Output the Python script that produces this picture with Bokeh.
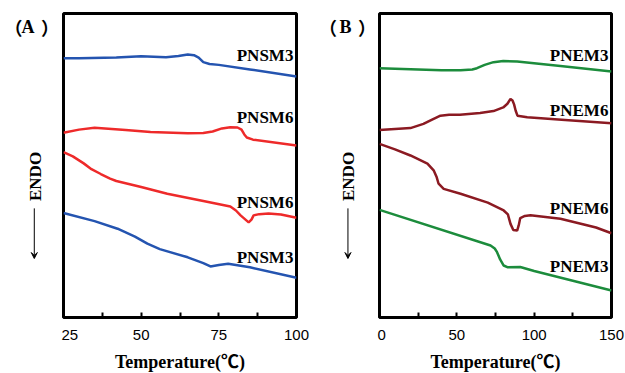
import math
from bokeh.plotting import figure
from bokeh.layouts import row
from bokeh.models import Range1d, FixedTicker, Label, Arrow, VeeHead
from bokeh.embed import file_html
from bokeh.resources import INLINE

# ---------------- Panel A data (Temperature °C, heat flow a.u.) ----------------
a_sm3_top_t = [25, 30, 42, 50, 58, 62, 65, 67, 68.5, 70, 72, 75, 85, 100]
a_sm3_top_y = [85.3, 85.3, 85.5, 85.9, 85.6, 86.0, 86.5, 86.3, 85.5, 84.0, 83.4, 83.1, 81.6, 79.3]

a_sm6_top_t = [25, 30, 35, 45, 53, 65, 70, 73, 76, 78.7, 81, 82.3, 83.2, 84, 86, 100]
a_sm6_top_y = [60.8, 61.8, 62.4, 61.7, 61.0, 60.6, 60.7, 61.2, 62.2, 62.6, 62.5, 61.8, 60.2, 59.2, 58.5, 56.6]

a_sm6_bot_t = [25, 28, 31.5, 34, 37, 40, 42, 50, 58.4, 70, 78.7, 80.5, 82, 84.6, 85.5, 86.2, 88, 91, 95, 100]
a_sm6_bot_y = [54.4, 53.0, 50.7, 48.8, 47.2, 45.7, 44.9, 42.9, 40.7, 38.3, 36.5, 35.2, 33.6, 31.3, 32.2, 33.6, 34.0, 34.2, 33.9, 32.8]

a_sm3_bot_t = [25, 35, 42.4, 48, 52, 56, 65, 70, 72.3, 75, 78, 85, 100]
a_sm3_bot_y = [34.4, 31.7, 29.2, 26.6, 24.3, 22.5, 19.8, 17.9, 16.8, 17.3, 17.7, 16.5, 13.1]

a_labels = ["PNSM3", "PNSM6", "PNSM6", "PNSM3"]
a_label_y = [86.2, 65.8, 37.9, 19.8]

# ---------------- Panel B data ----------------
b_em3_top_t = [0, 20, 40, 52.4, 60, 63, 68, 73.7, 80, 89, 117, 150]
b_em3_top_y = [82.0, 81.7, 81.3, 81.3, 81.6, 82.0, 83.1, 84.0, 84.4, 84.2, 82.7, 80.9]

b_em6_top_t = [0, 20, 28.4, 34, 39.4, 45, 52, 65, 73.7, 80, 82.7, 84.7, 86, 87, 88, 89.2, 95.5, 120, 150]
b_em6_top_y = [61.7, 62.3, 63.7, 65.1, 66.4, 66.7, 66.7, 67.3, 67.9, 69.1, 70.3, 71.9, 71.4, 70.1, 68.1, 66.4, 65.9, 65.0, 63.9]

b_em6_bot_t = [0, 10, 20, 31, 35, 37, 38.2, 41.5, 52.4, 70, 80.3, 83, 84.7, 86.5, 89, 90, 91, 94, 97.6, 117, 140, 150]
b_em6_bot_y = [57.1, 55.3, 53.3, 50.6, 48.4, 46.1, 44.0, 42.3, 40.7, 37.8, 35.2, 33.9, 30.8, 28.8, 28.6, 30.3, 32.7, 33.4, 33.6, 32.5, 29.6, 27.7]

b_em3_bot_t = [0, 71.8, 74.5, 76, 78, 80.3, 83, 91, 100, 150]
b_em3_bot_y = [35.4, 23.7, 22.7, 21.5, 19.1, 17.1, 16.5, 16.6, 15.3, 8.9]

b_labels = ["PNEM3", "PNEM6", "PNEM6", "PNEM3"]
b_label_y = [86.2, 68.1, 35.9, 16.8]

a_ticks = [25, 50, 75, 100]
a_minor = [37.5, 62.5, 87.5]
b_ticks = [0, 50, 100, 150]
b_minor = [25, 75, 125]

BLUE = "#2454B0"
RED = "#EE2A2A"
DRED = "#8B1A22"
GREEN = "#1C8C3C"

SERIF = "Liberation Serif, Noto Sans CJK SC"
CJK = "Noto Sans CJK SC"


def make_strip(fw, xr, endo_x, arrow_x, letter, px):
    s = figure(frame_width=fw, frame_height=304, output_backend="svg",
               toolbar_location=None,
               x_range=Range1d(*xr), y_range=Range1d(0, 100),
               x_axis_type=None, y_axis_type=None,
               min_border_left=0, min_border_right=0,
               min_border_top=13, min_border_bottom=56)
    s.grid.visible = False
    s.outline_line_color = None
    s.background_fill_color = "white"
    s.border_fill_color = "white"
    s.add_layout(Label(x=endo_x, y=46.4, text="ENDO", angle=math.pi / 2,
                       text_align="center", text_baseline="middle",
                       text_font=SERIF, text_font_style="bold",
                       text_font_size="17px", text_color="black"))
    s.add_layout(Arrow(x_start=arrow_x, y_start=35.9, x_end=arrow_x, y_end=19.4,
                       line_color="black", line_width=1,
                       end=VeeHead(size=6, fill_color="black", line_color="black")))
    for txt, xx, fnt in zip(["（", letter, "）"], px, [CJK, SERIF, CJK]):
        s.add_layout(Label(x=xx, y=95.4, text=txt, text_align="center",
                           text_baseline="middle", text_font=fnt,
                           text_font_style="bold", text_font_size="18px",
                           text_color="black"))
    return s


def make_panel(fw, br, xr, ticks, minor, curves, labels, label_y, label_x):
    p = figure(frame_width=fw, frame_height=304, output_backend="svg",
               toolbar_location=None,
               x_range=Range1d(*xr), y_range=Range1d(0, 100),
               min_border_left=2, min_border_right=br, min_border_top=13,
               min_border_bottom=56)
    p.grid.visible = False
    p.yaxis.visible = False
    p.outline_line_color = "black"
    p.outline_line_width = 3
    p.background_fill_color = "white"
    p.border_fill_color = "white"

    ax = p.xaxis[0]
    ax.ticker = FixedTicker(ticks=ticks, minor_ticks=minor)
    ax.axis_line_color = None
    ax.major_tick_in = 5
    ax.major_tick_out = 0
    ax.minor_tick_in = 5
    ax.minor_tick_out = 0
    ax.major_tick_line_width = 2
    ax.minor_tick_line_width = 2
    ax.major_tick_line_color = "black"
    ax.minor_tick_line_color = "black"
    ax.major_label_text_font = "Liberation Sans"
    ax.major_label_text_font_size = "15px"
    ax.major_label_text_color = "black"
    ax.major_label_standoff = 12
    ax.axis_label = "Temperature(℃)"
    ax.axis_label_text_font = SERIF
    ax.axis_label_text_font_style = "bold"
    ax.axis_label_text_font_size = "18px"
    ax.axis_label_text_color = "black"
    ax.axis_label_standoff = 9

    for t, y, c in curves:
        p.line(t, y, line_color=c, line_width=2.5)

    for txt, yy in zip(labels, label_y):
        p.add_layout(Label(x=label_x, y=yy, text=txt, text_align="right",
                           text_baseline="middle", text_font=SERIF,
                           text_font_style="bold", text_font_size="17px",
                           text_color="black"))
    return p


sA = make_strip(61, (4.72, 24.36), 16.0, 15.6, "A", [8.94, 13.57, 20.62])
pA = make_panel(233, 24, (25, 100), a_ticks, a_minor,
                [(a_sm3_top_t, a_sm3_top_y, BLUE), (a_sm6_top_t, a_sm6_top_y, RED),
                 (a_sm6_bot_t, a_sm6_bot_y, RED), (a_sm3_bot_t, a_sm3_bot_y, BLUE)],
                a_labels, a_label_y, 99.0)

sB = make_strip(57, (-38.14, -1.29), -20.0, -20.4, "B", [-33.36, -21.98, -8.02])
pB = make_panel(232, 14, (0, 150), b_ticks, b_minor,
                [(b_em3_top_t, b_em3_top_y, GREEN), (b_em6_top_t, b_em6_top_y, DRED),
                 (b_em6_bot_t, b_em6_bot_y, DRED), (b_em3_bot_t, b_em3_bot_y, GREEN)],
                b_labels, b_label_y, 148.0)

layout = row(sA, pA, sB, pB)
open("out.html", "w").write(file_html(layout, INLINE))
